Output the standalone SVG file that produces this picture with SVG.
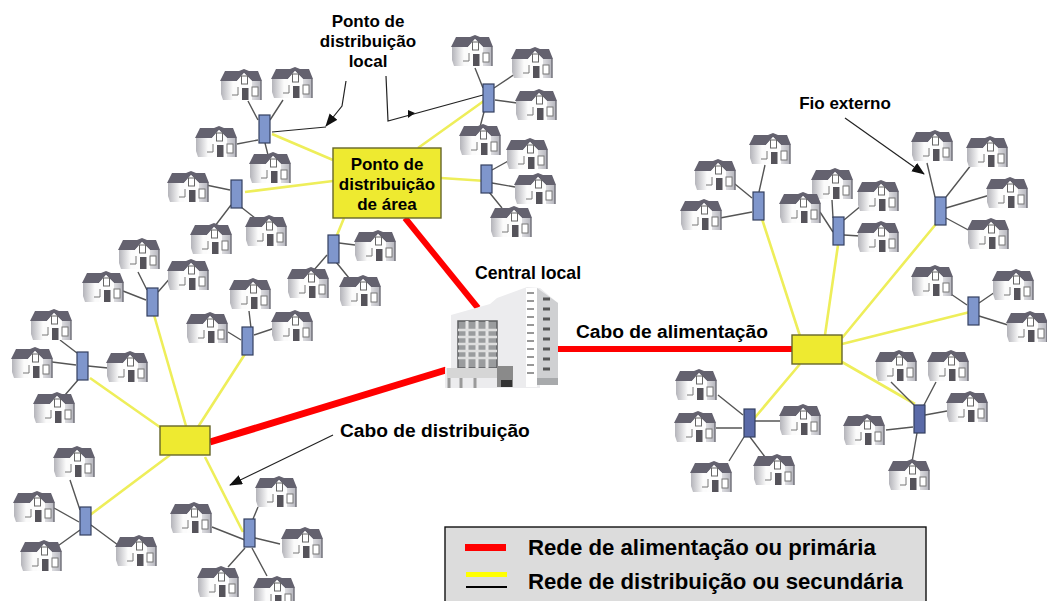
<svg xmlns="http://www.w3.org/2000/svg" width="1047" height="601" viewBox="0 0 1047 601">
<style>
text{font-family:"Liberation Sans",Arial,sans-serif;font-weight:bold;fill:#000}
.l{font-size:17px;text-anchor:middle}
.m{font-size:19.2px}
.k{font-size:22.2px}
.red{stroke:#f00;stroke-width:6;fill:none}
.y{stroke:#eeee5a;stroke-width:2.6;fill:none}
.b{stroke:#555;stroke-width:1.4;fill:none}
.a{stroke:#222;stroke-width:1.2;fill:none}
.pole{fill:#7f96cc;stroke:#34405f;stroke-width:1.2}
.dark{fill:#5a6aa8}
.box{fill:#eeea30;stroke:#66662a;stroke-width:1.4}
</style>
<defs>
<linearGradient id="wall" x1="0" x2="1" y1="0" y2="0"><stop offset="0" stop-color="#b4b4ba"/><stop offset=".3" stop-color="#fbfbfb"/><stop offset=".62" stop-color="#fbfbfb"/><stop offset="1" stop-color="#b4b4bc"/></linearGradient>
<marker id="arr" markerWidth="14" markerHeight="12" refX="12" refY="5" orient="auto" markerUnits="userSpaceOnUse"><path d="M0 0L13 5L0 10z" fill="#111"/></marker>
<g id="h">
<path d="M1 11H41V30H3L1 24z" fill="url(#wall)"/>
<path d="M41 11V30" stroke="#6d6d76" stroke-width="1.4"/>
<path d="M0 11L5 1H19L24 -1L29 1H38L42 11H32L24 3L17 11z" fill="#64626f"/>
<path d="M17 11L24 3L32 11V30H17z" fill="#fdfdfd"/>
<rect x="21.500" y="6" width="6" height="8" fill="#fff" stroke="#666" stroke-width="1"/>
<rect x="22" y="18" width="6.500" height="12" fill="#55535a"/>
<rect x="32" y="17" width="6" height="9" fill="#fff" stroke="#777" stroke-width="1"/>
<path d="M18 17V25H12" fill="none" stroke="#777" stroke-width="1"/>
</g>
</defs>

<g id="connectors">
<g>
<path class="red" d="M405 218L478 308"/>
<path class="red" style="stroke-width:7" d="M210 442L446 370"/>
<path class="red" d="M556 349H792"/>
</g>
<g>
<path class="y" d="M272 134L333 160M245 192L333 181M344 218L335 240M418 148L488 98M441 178L486 181"/>
<path class="y" d="M186 426L154 315M198 427L245 354M164 430L90 378M170 455L90 515M205 457L243 532"/>
<path class="y" d="M800 336L762 219M825 335L838 245M842 338L936 224M842 344L970 312M842 362L915 404M800 364L752 421"/>
</g>
<g>
<path class="b" d="M258 120L248 101M270 120L283 100M258 140L237 144M265 143L268 155"/>
<path class="b" d="M230 190L206 185M231 205L215 226M241 207L255 218"/>
<path class="b" d="M327 255L314 270M339 243L355 245M336 262L349 278"/>
<path class="b" d="M483 88L475 68M494 88L518 72M495 100L517 103M484 112L480 127"/>
<path class="b" d="M492 170L510 160M492 183L515 187M489 192L502 208"/>
<path class="b" d="M147 290L138 272M146 300L123 291M158 292L172 276"/>
<path class="b" d="M77 353L60 340M76 365L52 362M88 366L108 368M78 380L65 395"/>
<path class="b" d="M251 328L249 311M241 340L228 332M254 335L275 328"/>
<path class="b" d="M80 510L70 480M79 522L54 508M80 530L55 548M91 525L118 545"/>
<path class="b" d="M253 519L258 507M245 540L212 527M255 538L280 544M245 548L228 567M252 548L267 576"/>
<path class="b" d="M759 192L765 165M752 198L730 180M752 212L720 218"/>
<path class="b" d="M833 218L832 200M844 220L862 205M833 232L820 212M844 235L860 236"/>
<path class="b" d="M935 197L927 163M946 197L975 160M946 208L990 195M946 218L972 232"/>
<path class="b" d="M967 305L945 290M979 303L998 290M979 316L1008 325"/>
<path class="b" d="M743 415L718 395M742 428L716 428M754 421L781 421M744 437L729 461M750 437L765 457"/>
<path class="b" d="M914 405L891 382M924 405L936 382M925 415L947 411M913 427L886 430M917 433L912 462"/>
</g>
<g>
<path class="a" d="M346 81L342 106L326 126" marker-end="url(#arr)"/>
<path class="a" d="M272 132L326 127"/>
<path class="a" d="M386 76L388 121L483 95"/>
<path d="M408 110L415 113L408 118z" fill="#111"/>
<path class="a" d="M845 118L924 174" marker-end="url(#arr)"/>
<path class="a" d="M333 435L230 485" marker-end="url(#arr)"/>
</g>
</g>

<g id="houses">
<use href="#h" x="220" y="70"/><use href="#h" x="271" y="68"/><use href="#h" x="195" y="127"/><use href="#h" x="249" y="153"/>
<use href="#h" x="167" y="172"/><use href="#h" x="190" y="224"/><use href="#h" x="245" y="216"/>
<use href="#h" x="287" y="268"/><use href="#h" x="354" y="231"/><use href="#h" x="339" y="276"/>
<use href="#h" x="451" y="36"/><use href="#h" x="511" y="48"/><use href="#h" x="515" y="90"/><use href="#h" x="459" y="125"/>
<use href="#h" x="506" y="139"/><use href="#h" x="514" y="174"/><use href="#h" x="490" y="207"/>
<use href="#h" x="118" y="239"/><use href="#h" x="82" y="272"/><use href="#h" x="167" y="260"/>
<use href="#h" x="30" y="310"/><use href="#h" x="11" y="348"/><use href="#h" x="106" y="352"/><use href="#h" x="33" y="393"/>
<use href="#h" x="229" y="279"/><use href="#h" x="186" y="313"/><use href="#h" x="271" y="311"/>
<use href="#h" x="53" y="447"/><use href="#h" x="13" y="492"/><use href="#h" x="20" y="541"/><use href="#h" x="115" y="536"/>
<use href="#h" x="255" y="477"/><use href="#h" x="170" y="503"/><use href="#h" x="281" y="528"/><use href="#h" x="197" y="567"/><use href="#h" x="253" y="577"/>
<use href="#h" x="749" y="134"/><use href="#h" x="694" y="160"/><use href="#h" x="680" y="200"/>
<use href="#h" x="811" y="169"/><use href="#h" x="857" y="181"/><use href="#h" x="779" y="193"/><use href="#h" x="857" y="222"/>
<use href="#h" x="911" y="131"/><use href="#h" x="966" y="137"/><use href="#h" x="986" y="178"/><use href="#h" x="967" y="219"/>
<use href="#h" x="911" y="266"/><use href="#h" x="992" y="270"/><use href="#h" x="1006" y="312"/>
<use href="#h" x="675" y="370"/><use href="#h" x="674" y="412"/><use href="#h" x="779" y="405"/><use href="#h" x="690" y="462"/><use href="#h" x="753" y="455"/>
<use href="#h" x="875" y="351"/><use href="#h" x="927" y="351"/><use href="#h" x="946" y="392"/><use href="#h" x="843" y="415"/><use href="#h" x="888" y="460"/>
</g>

<g id="poles">
<rect class="pole" x="259" y="115" width="11" height="28"/>
<rect class="pole" x="231" y="180" width="11" height="28"/>
<rect class="pole" x="328" y="235" width="11" height="28"/>
<rect class="pole" x="483" y="84" width="11" height="28"/>
<rect class="pole" x="481" y="165" width="11" height="28"/>
<rect class="pole" x="147" y="288" width="11" height="28"/>
<rect class="pole" x="77" y="352" width="11" height="28"/>
<rect class="pole" x="242" y="327" width="11" height="28"/>
<rect class="pole" x="80" y="507" width="11" height="28"/>
<rect class="pole" x="244" y="519" width="11" height="28"/>
<rect class="pole" x="753" y="192" width="11" height="28"/>
<rect class="pole" x="833" y="217" width="11" height="28"/>
<rect class="pole" x="935" y="197" width="11" height="28"/>
<rect class="pole" x="968" y="297" width="11" height="28"/>
<rect class="pole dark" style="fill:#5a6aa8" x="744" y="409" width="11" height="28"/>
<rect class="pole dark" style="fill:#5a6aa8" x="914" y="405" width="11" height="28"/>
</g>

<g id="area-point">
<rect class="box" x="333" y="148" width="108" height="70"/>
<text class="l" x="387" y="170">Ponto de</text>
<text class="l" x="387" y="190">distribuição</text>
<text class="l" x="387" y="210">de área</text>
</g>
<g id="left-point"><rect class="box" x="160" y="426" width="50" height="29"/></g>
<g id="right-point"><rect class="box" x="792" y="335" width="50" height="29"/></g>

<g id="central-building">
<path d="M451 315L490 304L497 298L527 287L540 288L558 303V385H540V388H445V368H451z" fill="#ececee"/>
<path d="M526 288H537V387H526z" fill="#fff"/>
<path d="M537 288L558 303V385H537z" fill="#cfd0d2"/>
<path d="M537 378H558V385H537z" fill="#a8aaac"/>
<rect x="458" y="321" width="39" height="47" fill="#9a9c9e" stroke="#5c5e60" stroke-width="1.5"/>
<path d="M467 321V368M477 321V368M487 321V368" stroke="#e6e6e6" stroke-width="3"/>
<path d="M458 330H497M458 337H497M458 344H497M458 351H497M458 358H497" stroke="#dedede" stroke-width="2.4"/>
<rect x="447" y="368" width="50" height="10" fill="#d6d6d6"/>
<rect x="497" y="366" width="16" height="21" fill="#8a8a8a"/>
<path d="M449 378V388M461 378V388M475 378V388" stroke="#9a9a9a" stroke-width="3"/>
<path d="M501 380H512V387H501z" fill="#333"/>
<path d="M527 293H534M527 301H534M527 309H534M527 317H534M527 325H534M527 333H534M527 341H534M527 349H534M527 357H534M527 365H534M527 373H534" stroke="#777" stroke-width="1.5"/>
<path d="M543 299H550M543 309H550M543 319H550M543 329H550M543 339H550M543 349H550M543 359H550M543 369H550" stroke="#555" stroke-width="3"/>
</g>

<g id="labels">
<text class="l" x="368" y="27">Ponto de</text>
<text class="l" x="368" y="47">distribuição</text>
<text class="l" x="368" y="67">local</text>
<text class="l" x="845" y="109">Fio externo</text>
<text class="l" x="528" y="279" style="font-size:17.700px">Central local</text>
<text class="m" x="576" y="338">Cabo de alimentação</text>
<text class="m" x="340" y="437">Cabo de distribuição</text>
</g>

<g id="legend">
<rect x="445" y="527" width="481" height="80" fill="#dcdcdc" stroke="#111" stroke-width="1.4"/>
<rect x="465" y="544" width="41" height="7" fill="#f00"/>
<rect x="466" y="572" width="41" height="5" fill="#ff0"/>
<rect x="466" y="586" width="41" height="2" fill="#000"/>
<text class="k" x="528" y="555">Rede de alimentação ou primária</text>
<text class="k" x="528" y="589">Rede de distribuição ou secundária</text>
</g>
</svg>
